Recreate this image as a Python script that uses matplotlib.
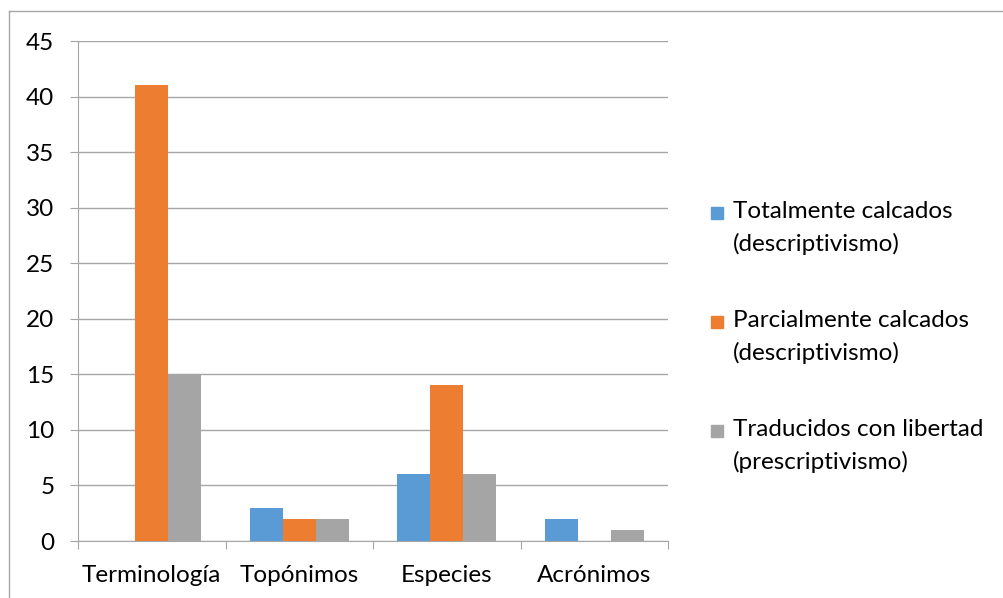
import numpy as np
from matplotlib import pyplot as plt
from matplotlib.lines import Line2D
from matplotlib.patches import Rectangle

# data
categories = ['Terminología', 'Topónimos', 'Especies', 'Acrónimos']
totalmente = [0, 3, 6, 2]
parcialmente = [41, 2, 14, 0]
traducidos = [15, 2, 6, 1]

series_names = ['Totalmente calcados\n(descriptivismo)',
                'Parcialmente calcados\n(descriptivismo)',
                'Traducidos con libertad\n(prescriptivismo)']
colors = ['#5B9BD5', '#ED7D31', '#A5A5A5']

plt.rcParams['font.family'] = ['Lato', 'DejaVu Sans']
fs = 17.5

fig = plt.figure(figsize=(10.04, 5.98), dpi=100)
ax = fig.add_axes([78 / 1004, 57 / 598, 590 / 1004, 500 / 598])

x = np.arange(len(categories))
w = 0.224
for i, vals in enumerate([totalmente, parcialmente, traducidos]):
    ax.bar(x + (i - 1) * w, vals, w, color=colors[i], zorder=3)

ax.set_xlim(-0.5, len(categories) - 0.5)
ax.set_ylim(0, 45)
ax.set_yticks(range(0, 46, 5))
ax.grid(axis='y', color='#A6A6A6', linewidth=1, zorder=0)

# category separators as ticks
ax.set_xticks(np.arange(-0.5, len(categories), 1))
ax.set_xticklabels([])
ax.set_xticks(x, minor=True)
ax.set_xticklabels(categories, minor=True, fontsize=fs)
ax.tick_params(axis='x', which='major', length=6, color='#A6A6A6')
ax.tick_params(axis='x', which='minor', length=0, pad=17)
ax.tick_params(axis='y', length=6, color='#A6A6A6', labelsize=fs, pad=11)

for s in ['top', 'right']:
    ax.spines[s].set_visible(False)
ax.spines['left'].set_color('#A6A6A6')
ax.spines['bottom'].set_color('#A6A6A6')

# legend drawn by hand so the swatch sits on the first line
for i, name in enumerate(series_names):
    ymid = 1 - (213 + i * 109) / 598
    fig.patches.append(Rectangle((711 / 1004, ymid - 6 / 598), 12 / 1004, 12 / 598,
                                 transform=fig.transFigure, color=colors[i]))
    fig.text(733 / 1004, ymid + 12 / 598, name, fontsize=fs, va='top',
             linespacing=1.6)

# outer frame (top and left edge visible)
fig.add_artist(Line2D([9 / 1004, 1], [1 - 11 / 598, 1 - 11 / 598],
                      transform=fig.transFigure, color='#A6A6A6', linewidth=1))
fig.add_artist(Line2D([9 / 1004, 9 / 1004], [0, 1 - 11 / 598],
                      transform=fig.transFigure, color='#A6A6A6', linewidth=1))

plt.savefig('out.png', dpi=100)
